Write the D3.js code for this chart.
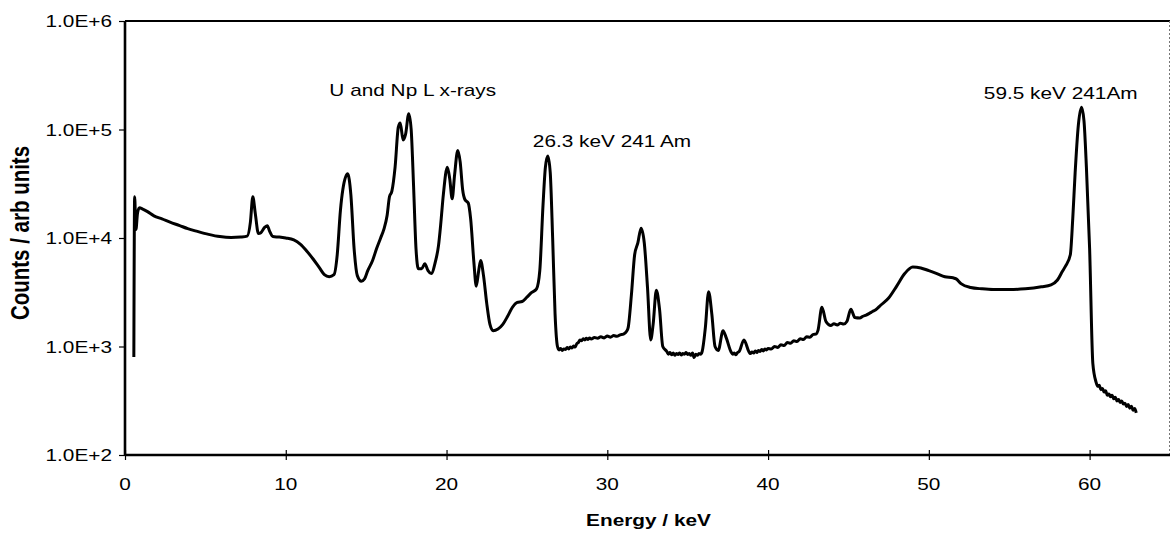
<!DOCTYPE html>
<html>
<head>
<meta charset="utf-8">
<script src="https://cdn.jsdelivr.net/npm/d3@7"></script>
<style>
  html, body { margin: 0; padding: 0; background: #fff; }
  svg { display: block; }
  text { font-family: "Liberation Sans", Arial, sans-serif; fill: #000; }
</style>
</head>
<body>
<svg id="chart" width="1171" height="534"></svg>
<script>
// Gamma / x-ray spectrum of an 241Am source (log counts vs energy)
const energyKeV = [
  0.55, 0.60, 0.68, 0.78, 0.90, 1.10, 1.40, 1.80, 2.30, 2.80, 3.40, 3.90, 4.50, 5.20, 5.90, 6.60, 7.20, 7.60,
  7.80, 7.95, 8.10, 8.30, 8.45, 8.70, 8.85, 9.00, 9.20, 9.60, 10.0, 10.5, 10.9, 11.3, 11.7, 12.1, 12.4, 12.7,
  13.0, 13.2, 13.4, 13.55, 13.85, 14.05, 14.25, 14.45, 14.7, 14.9, 15.1, 15.4, 15.65, 15.9, 16.1, 16.3, 16.45,
  16.6, 16.8, 17.0, 17.12, 17.3, 17.45, 17.65, 17.8, 17.95, 18.1, 18.25, 18.45, 18.65, 18.85, 19.05, 19.3,
  19.5, 19.65, 19.8, 20.05, 20.2, 20.35, 20.5, 20.7, 20.85, 21.0, 21.15, 21.35, 21.5, 21.7, 21.85, 22.0,
  22.12, 22.3, 22.5, 22.7, 22.9, 23.2, 23.5, 23.8, 24.1, 24.4, 24.7, 25.0, 25.3, 25.6, 25.8, 26.0, 26.15,
  26.3, 26.45, 26.6, 26.75, 26.9,
  27.0, 27.1, 27.2, 27.3, 27.4, 27.5, 27.6, 27.7, 27.8, 27.9, 28.0, 28.1, 28.2, 28.3, 28.4, 28.5, 28.6,
  28.7, 28.8, 28.9, 29.0, 29.2, 29.4, 29.6, 29.8, 30.0, 30.2, 30.4, 30.6, 30.8, 31.0, 31.2, 31.3, 31.5,
  31.7, 31.9, 32.1, 32.3, 32.5, 32.7, 32.85, 33.05, 33.25, 33.45,
  33.7, 33.8, 33.9, 34.0, 34.1, 34.2, 34.3, 34.4, 34.5, 34.6, 34.7, 34.8, 34.9, 35.0, 35.1, 35.2, 35.3,
  35.4, 35.5, 35.6, 35.7, 35.8, 35.9, 36.1,
  36.3, 36.5, 36.7, 36.9, 37.2, 37.4, 37.7, 37.8, 37.9, 38.0, 38.1, 38.2, 38.5,
  38.8, 38.9, 39.0, 39.1, 39.2, 39.3, 39.4, 39.5, 39.6, 39.7, 39.8, 39.9, 40.0, 40.2, 40.4, 40.6, 40.8,
  41.0, 41.2, 41.4, 41.6, 41.8, 42.0, 42.2, 42.4, 42.6, 42.8, 43.0, 43.1,
  43.35, 43.6, 43.9, 44.1, 44.3, 44.5, 44.7, 44.9, 45.15, 45.4, 45.7, 45.9, 46.1, 46.3, 46.5, 46.7,
  47.0, 47.5, 48.0, 48.5, 49.0, 49.5, 50.0, 50.5,
  51.0, 51.5, 51.7, 52.0, 52.6, 53.3, 54.0, 55.0, 56.0, 57.0, 57.6, 58.0, 58.3, 58.5, 58.8, 58.95, 59.1,
  59.3, 59.5, 59.65, 59.8, 60.0, 60.2,
  60.4, 60.5, 60.6, 60.7, 60.8, 60.9, 61.0, 61.1, 61.2, 61.3, 61.4, 61.5, 61.6, 61.7, 61.8, 61.9, 62.0,
  62.1, 62.2, 62.3, 62.4, 62.5, 62.6, 62.7, 62.8, 62.9
];
const counts = [
  800, 24000, 12000, 17000, 19000, 18500, 17500, 16000, 15000, 14000, 13000, 12200, 11500, 10800, 10300, 10100, 10200, 10400,
  14000, 24000, 17000, 11000, 11200, 12600, 13000, 11500, 10300, 10200, 10000, 9600, 8800, 7600, 6400, 5300, 4600, 4400,
  4600, 7000, 18000, 28000, 39000, 25000, 8000, 4500, 4000, 4200, 5000, 6200, 8000, 10000, 12000, 16000, 24000,
  27000, 45000, 105000, 115000, 80000, 90000, 140000, 100000, 30000, 8000, 5200, 5200, 5800, 5000, 4700, 6000,
  8500, 14000, 25000, 45000, 35000, 23000, 38000, 64000, 50000, 28000, 22500, 21000, 15000, 6000, 3600, 5000,
  6200, 4500, 2500, 1600, 1400, 1450, 1600, 1900, 2300, 2550, 2600, 2850, 3150, 3400, 5000, 20000, 45000,
  57000, 40000, 10000, 2000, 1000,
  930, 960, 920, 950, 940, 980, 950, 990, 970, 1010, 990, 1060, 1090, 1150, 1130, 1180, 1150,
  1190, 1160, 1200, 1170, 1210, 1190, 1230, 1200, 1250, 1220, 1260, 1240, 1280, 1300, 1380, 1500, 3000,
  7000, 9000, 12300, 9000, 3500, 1150, 1600, 3300, 2200, 1000,
  900, 850, 880, 840, 870, 830, 860, 845, 870, 835, 860, 850, 880, 845, 860, 830, 870,
  790, 850, 830, 860, 850, 900, 1500,
  3200, 2000, 1000, 920, 1400, 1200, 890, 850, 870, 840, 880, 900, 1150,
  900, 860, 890, 870, 910, 880, 920, 900, 940, 910, 950, 930, 960, 950, 1000, 980, 1040,
  1020, 1090, 1070, 1130, 1110, 1180, 1160, 1230, 1220, 1290, 1310, 1400,
  2300, 1700, 1560, 1620, 1580, 1640, 1610, 1700, 2200, 1850, 1830, 1900, 1950, 2020, 2100, 2180,
  2400, 2800, 3600, 4700, 5400, 5300, 5000, 4700,
  4400, 4300, 4200, 3800, 3500, 3400, 3350, 3350, 3400, 3550, 3700, 4100, 4900, 5500, 7000, 15000, 40000,
  110000, 160000, 120000, 45000, 8000, 700,
  470, 430, 440, 400, 410, 380, 390, 355, 365, 345, 355, 330, 340, 315, 325, 305, 315,
  295, 300, 280, 292, 270, 282, 258, 268, 245
];

const xTicks = [0, 10, 20, 30, 40, 50, 60];
const yTicks = [1e2, 1e3, 1e4, 1e5, 1e6];
const yTickLabels = ["1.0E+2", "1.0E+3", "1.0E+4", "1.0E+5", "1.0E+6"];

// peak annotations: text and the spectrum point they sit on
const noteTexts = ["U and Np L x-rays", "26.3 keV 241 Am", "59.5 keV 241Am"];
const notePeakEnergy = [17.65, 26.3, 59.5];

const xTitle = "Energy / keV";
const yTitle = "Counts / arb units";

const spectrum = energyKeV.map((e, i) => ({ e, c: counts[i] }));

const plot = { left: 125, right: 1170, top: 21, bottom: 455 };
const stretch = 1.3; // glyphs in this figure are drawn wide

const svg = d3.select("#chart");
const x = d3.scaleLinear().domain([0, 65]).range([plot.left, plot.right]);
const y = d3.scaleLog().domain([1e2, 1e6]).range([plot.bottom, plot.top]);

// frame: solid top, dotted right
svg.append("line")
  .attr("x1", plot.left).attr("x2", plot.right)
  .attr("y1", plot.top).attr("y2", plot.top)
  .attr("stroke", "#000").attr("stroke-width", 2);
svg.append("line")
  .attr("x1", plot.right - 0.5).attr("x2", plot.right - 0.5)
  .attr("y1", plot.top).attr("y2", plot.bottom)
  .attr("stroke", "#777").attr("stroke-width", 1).attr("stroke-dasharray", "2,2");

// spectrum trace
const line = d3.line()
  .x(d => x(d.e))
  .y(d => y(d.c))
  .curve(d3.curveMonotoneX);
svg.append("path")
  .datum(spectrum)
  .attr("d", line)
  .attr("fill", "none")
  .attr("stroke", "#000")
  .attr("stroke-width", 3)
  .attr("stroke-linejoin", "round");

// y axis
const yAxis = d3.axisLeft(y).tickValues(yTicks).tickSize(6).tickFormat("");
const gy = svg.append("g").attr("transform", `translate(${plot.left},0)`).call(yAxis);
gy.select(".domain").attr("stroke-width", 2.6).attr("d", `M0,${plot.top}V${plot.bottom}`);
gy.selectAll(".tick line").attr("stroke-width", 1.2);
yTicks.forEach((v, i) => {
  svg.append("text")
    .attr("transform", `translate(112,${y(v) + 6}) scale(${stretch},1)`)
    .attr("text-anchor", "end")
    .attr("font-size", 16)
    .text(yTickLabels[i]);
});

// x axis with crossing ticks
const xAxis = d3.axisBottom(x).tickValues(xTicks).tickSizeInner(5).tickSizeOuter(0).tickFormat("");
const gx = svg.append("g").attr("transform", `translate(0,${plot.bottom})`).call(xAxis);
gx.select(".domain").attr("stroke-width", 2.6).attr("d", `M${plot.left},0H${plot.right}`);
gx.selectAll(".tick line").attr("y1", -5).attr("y2", 5).attr("stroke-width", 1.2);
xTicks.forEach(v => {
  svg.append("text")
    .attr("transform", `translate(${x(v)},${plot.bottom + 35}) scale(${stretch},1)`)
    .attr("text-anchor", "middle")
    .attr("font-size", 16)
    .text(v);
});

// axis titles
svg.append("text")
  .attr("transform", `translate(${(x(0) + x(65)) / 2 + 1},${plot.bottom + 71}) scale(${stretch},1)`)
  .attr("text-anchor", "middle")
  .attr("font-size", 16).attr("font-weight", "bold")
  .text(xTitle);
svg.append("text")
  .attr("transform", `translate(29,${(plot.top + plot.bottom) / 2 - 5}) scale(${stretch},1) rotate(-90)`)
  .attr("text-anchor", "middle")
  .attr("font-size", 20.5).attr("font-weight", "bold")
  .text(yTitle);

// peak annotations
const peakCount = e => spectrum.find(d => d.e === e).c;
const noteDx = [4, -15, 56];
const noteAnchor = ["middle", "start", "end"];
const noteDy = [-18, -9, -8];
noteTexts.forEach((t, i) => {
  const e = notePeakEnergy[i];
  svg.append("text")
    .attr("transform", `translate(${x(e) + noteDx[i]},${y(peakCount(e)) + noteDy[i]}) scale(${stretch},1)`)
    .attr("text-anchor", noteAnchor[i])
    .attr("font-size", 16)
    .text(t);
});
</script>
</body>
</html>
